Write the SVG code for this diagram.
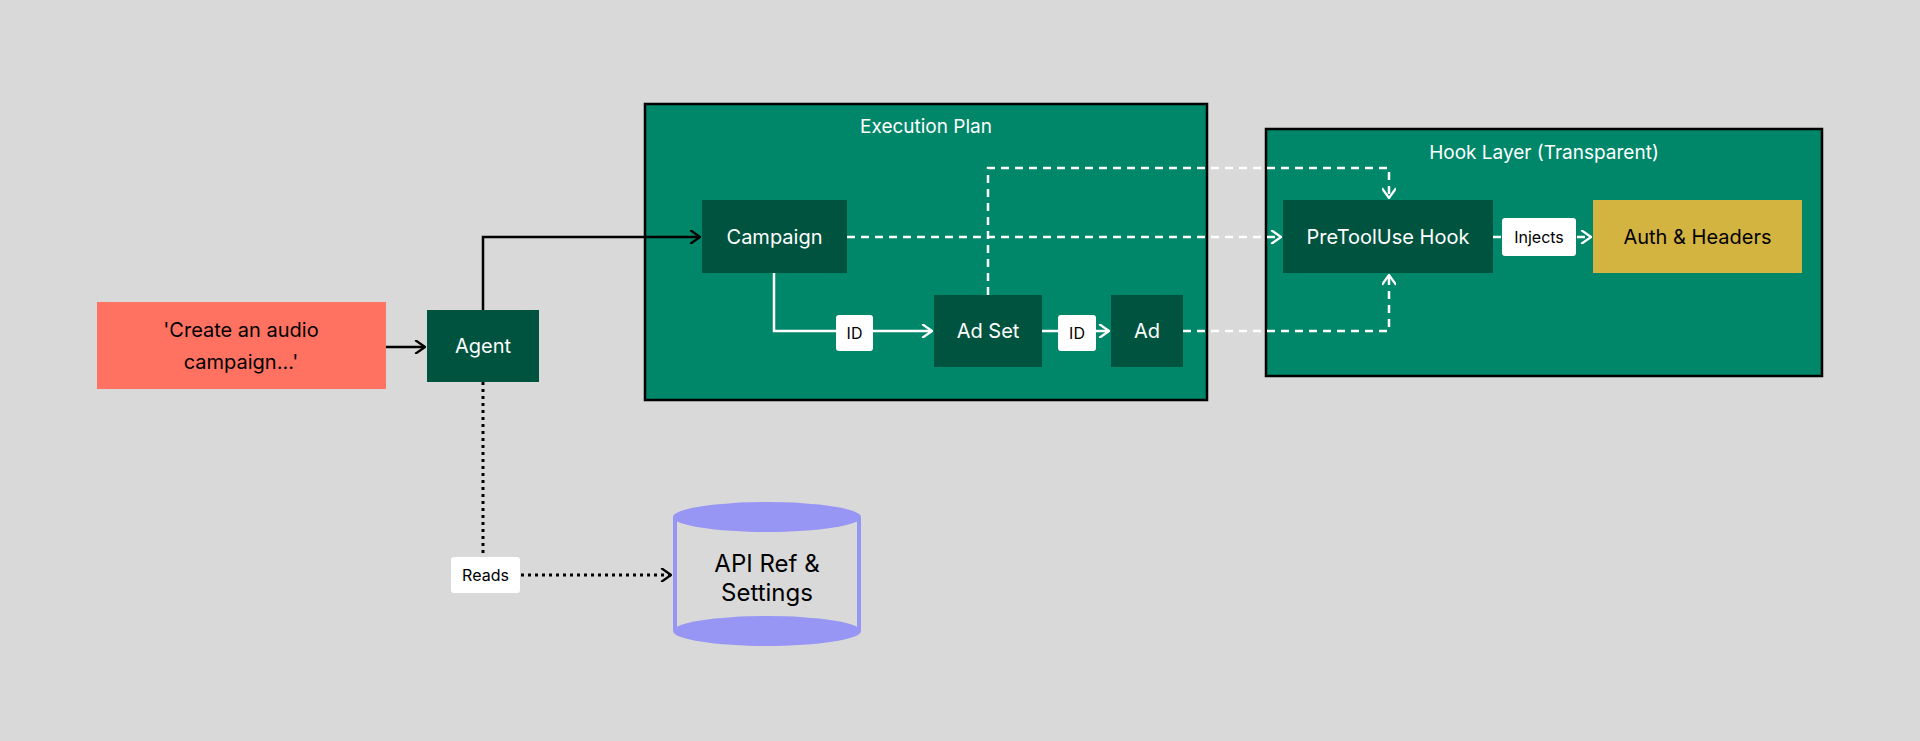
<svg xmlns="http://www.w3.org/2000/svg" width="1920" height="741" viewBox="0 0 1920 741">
<defs>
<style>
text{font-family:Inter,"Liberation Sans",sans-serif;text-anchor:middle;dominant-baseline:central}
.n{fill:#00543f}
.nt{fill:#fff;font-size:20px}
.g{fill:#00876a;stroke:#000;stroke-width:2.5}
.gt{fill:#fff;font-size:19px}
.lb{fill:#fff}
.lt{fill:#000;font-size:16px}
.w{fill:none;stroke:#fff;stroke-width:2.5}
.wd{fill:none;stroke:#fff;stroke-width:2.5;stroke-dasharray:8 6}
.k{fill:none;stroke:#000;stroke-width:2.5}
.kd{fill:none;stroke:#000;stroke-width:3;stroke-dasharray:3 4}
</style>
<marker id="aw" viewBox="0 0 10 10" refX="9" refY="5" markerWidth="14" markerHeight="14" markerUnits="userSpaceOnUse" orient="auto"><path d="M2 0L9 5L2 10" fill="none" stroke="#fff" stroke-width="1.6"/></marker>
<marker id="ak" viewBox="0 0 10 10" refX="9" refY="5" markerWidth="14" markerHeight="14" markerUnits="userSpaceOnUse" orient="auto"><path d="M2 0L9 5L2 10" fill="none" stroke="#000" stroke-width="1.6"/></marker>
</defs>
<rect width="1920" height="741" fill="#d9d9d9"/>
<g id="execution-plan"><rect class="g" x="645" y="104" width="562" height="296"/><text class="gt" x="926" y="126">Execution Plan</text></g>
<g id="hook-layer"><rect class="g" x="1266" y="129" width="556" height="247"/><text class="gt" x="1544" y="152">Hook Layer (Transparent)</text></g>
<g id="connectors">
<path class="k" d="M386 347H425" marker-end="url(#ak)"/>
<path class="k" d="M483 310V237H700" marker-end="url(#ak)"/>
<path class="w" d="M774 273V331H932" marker-end="url(#aw)"/>
<path class="w" d="M1042 331H1109" marker-end="url(#aw)"/>
<path class="wd" d="M847 237H1281" marker-end="url(#aw)"/>
<path class="wd" d="M988 295V168H1389V198" marker-end="url(#aw)"/>
<path class="wd" d="M1183 331H1389V275" marker-end="url(#aw)"/>
<path class="wd" d="M1493 237H1591" marker-end="url(#aw)"/>
<path class="kd" d="M483 382V575H671" marker-end="url(#ak)"/>
<rect class="lb" x="836" y="315" width="37" height="36" rx="3"/><text class="lt" x="854.5" y="333">ID</text>
<rect class="lb" x="1058" y="315" width="38" height="36" rx="3"/><text class="lt" x="1077" y="333">ID</text>
<rect class="lb" x="1502" y="218" width="74" height="38" rx="3"/><text class="lt" x="1539" y="237">Injects</text>
<rect class="lb" x="451" y="557" width="69" height="36" rx="3"/><text class="lt" x="485.5" y="575">Reads</text>
</g>
<g id="prompt"><rect x="97" y="302" width="289" height="87" fill="#ff7262"/><text x="241" y="330" font-size="20" fill="#000">'Create an audio</text><text x="241" y="362" font-size="20" fill="#000">campaign...'</text></g>
<g id="agent"><rect class="n" x="427" y="310" width="112" height="72"/><text class="nt" x="483" y="346">Agent</text></g>
<g id="campaign"><rect class="n" x="702" y="200" width="145" height="73"/><text class="nt" x="774.5" y="237">Campaign</text></g>
<g id="adset"><rect class="n" x="934" y="295" width="108" height="72"/><text class="nt" x="988" y="331">Ad Set</text></g>
<g id="ad"><rect class="n" x="1111" y="295" width="72" height="72"/><text class="nt" x="1147" y="331">Ad</text></g>
<g id="pretooluse"><rect class="n" x="1283" y="200" width="210" height="73"/><text class="nt" x="1388" y="237">PreToolUse Hook</text></g>
<g id="auth"><rect x="1593" y="200" width="209" height="73" fill="#d4b441"/><text x="1697.5" y="237" font-size="20" fill="#000">Auth &amp; Headers</text></g>
<g id="api-ref">
<path d="M675 517V630" stroke="#9896f4" stroke-width="4" fill="none"/><path d="M859 517V630" stroke="#9896f4" stroke-width="4" fill="none"/>
<ellipse cx="767" cy="517" rx="94" ry="15" fill="#9896f4"/>
<ellipse cx="767" cy="631" rx="94" ry="15" fill="#9896f4"/>
<text x="767" y="563" font-size="24" fill="#000">API Ref &amp;</text><text x="767" y="592" font-size="24" fill="#000">Settings</text>
</g>
</svg>
